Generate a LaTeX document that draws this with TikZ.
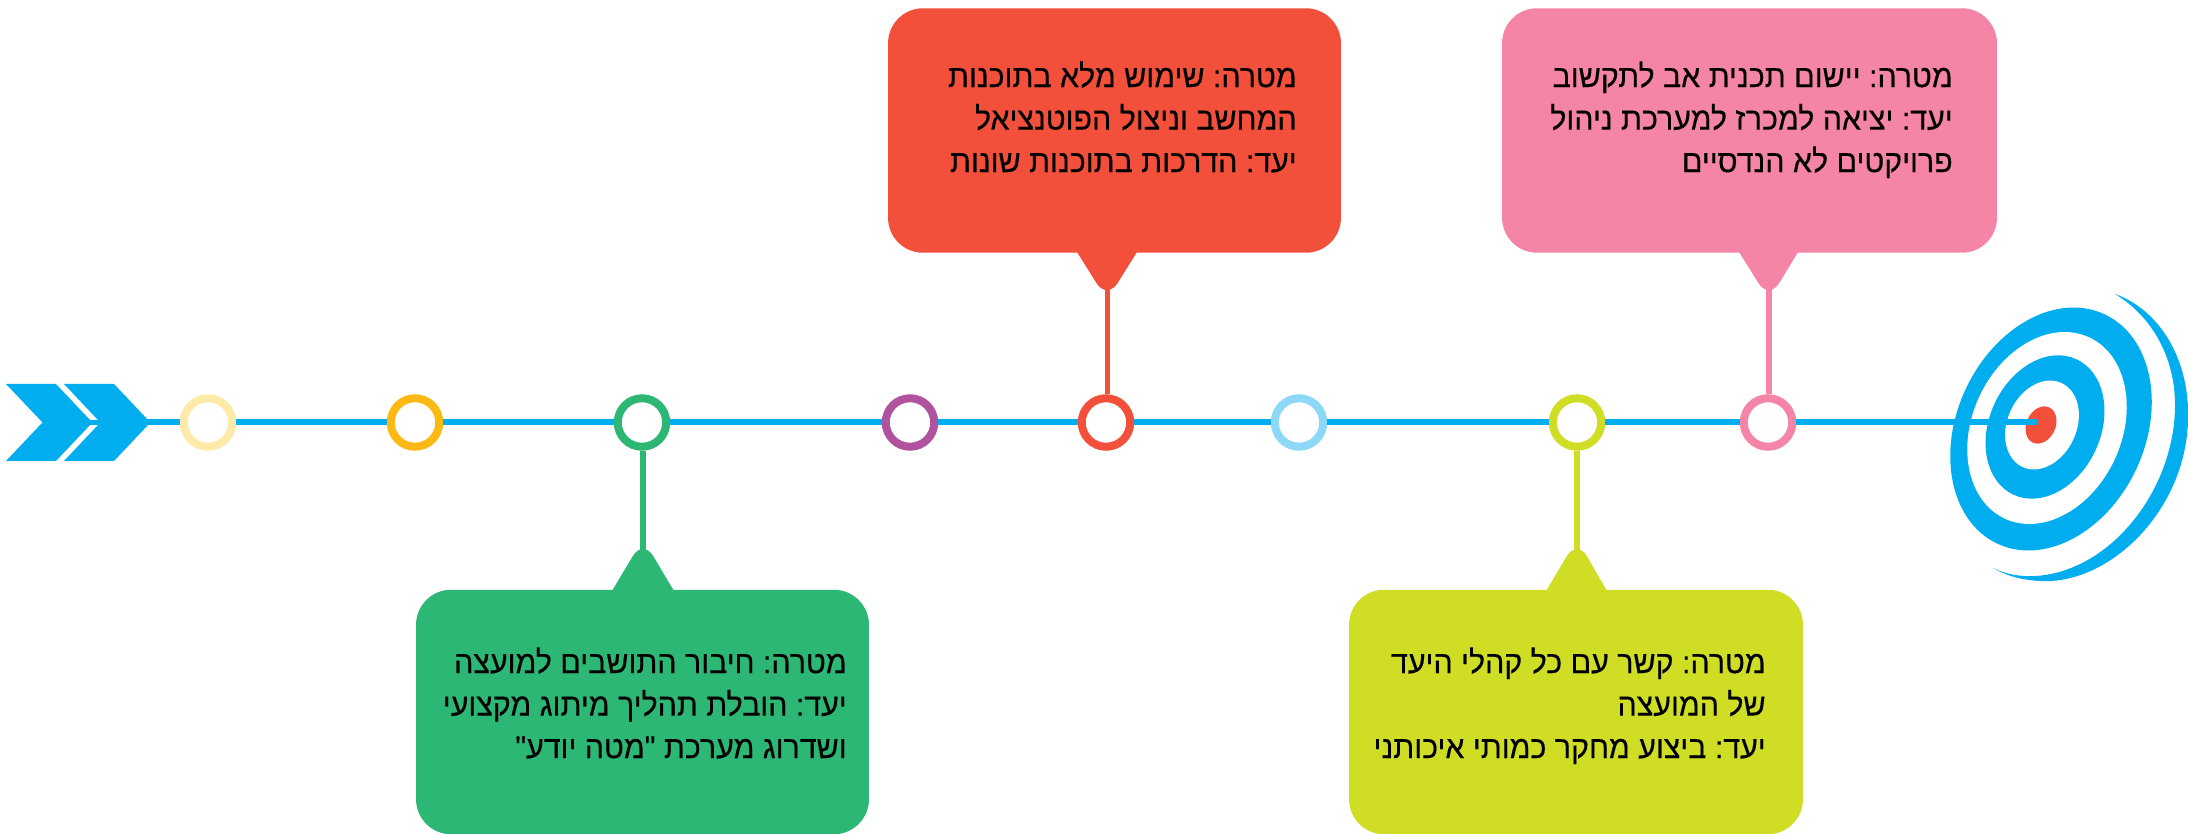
\documentclass[tikz,border=0pt]{standalone}
\usepackage{fontspec}
\usetikzlibrary{positioning,calc}
\newfontfamily\hebfont[Script=Hebrew,FakeBold=0.35,FakeStretch=0.96]{Liberation Sans}
\TeXXeTstate=1
\newcommand{\rl}[1]{\beginR#1\endR}
\definecolor{skyc}{HTML}{00AEEF}
\definecolor{redc}{HTML}{F2503A}
\definecolor{pinkc}{HTML}{F585A6}
\definecolor{greenc}{HTML}{2DB775}
\definecolor{limec}{HTML}{CFDD25}
\definecolor{palec}{HTML}{FDE9A8}
\definecolor{amberc}{HTML}{FDB913}
\definecolor{purplec}{HTML}{B1529E}
\definecolor{icec}{HTML}{8DD7F7}
\tikzset{
  dot/.style={circle, draw=#1, line width=0.16cm, minimum size=0.97cm, inner sep=0pt},
  bubble/.style={fill=#1, rounded corners=0.7cm, minimum height=4.89cm, inner sep=0pt},
  msg/.style={anchor=north east, align=right, inner sep=0pt, text=black,
    font=\hebfont\fontsize{18}{24.2}\selectfont\frenchspacing},
  track/.style={skyc, line width=0.12cm},
  stem/.style={#1, line width=0.11cm}
}

\begin{document}
\begin{tikzpicture}[x=0.02cm, y=-0.02cm]
    \useasboundingbox (0,0) rectangle (2188,834);

    % Start arrows
    \fill[skyc] (6,384) -- (56,384) -- (90,420) -- (98,420) -- (98,425) -- (90,425) -- (56,461) -- (6,461) -- (42.5,422.5) -- cycle;
    \fill[skyc] (64,384) -- (114,384) -- (148,420) -- (148,425) -- (114,461) -- (64,461) -- (98,425) -- (98,420) -- cycle;
    \coordinate (arrowtip) at (146,422.5);

    % Target
    \fill[skyc] (2115,294) .. controls (2160,310) and (2190,360) .. (2188,420) .. controls (2186,510) and (2110,585) .. (2040,581) .. controls (2020,580) and (2005,575) .. (1993,568) .. controls (2005,574) and (2020,577) .. (2035,576) .. controls (2110,572) and (2175,490) .. (2175,405) .. controls (2175,355) and (2150,315) .. (2115,294) -- cycle;
    \fill[skyc, rotate around={-25:(2051,429)}] (2051,429) ellipse (94.2 and 126.6);
    \fill[white, rotate around={-25:(2047,428)}] (2047,428) ellipse (74.6 and 100);
    \fill[skyc, rotate around={-25:(2045,427)}] (2045,427) ellipse (55.6 and 74.7);
    \fill[white, rotate around={-25:(2042,425)}] (2042,425) ellipse (34.5 and 46.3);
    \fill[redc, rotate around={-25:(2041,425)}] (2041,425) ellipse (14.5 and 19.4);
    \coordinate (lineend) at (2037,422.5);

    % Timeline dots
    \node[dot=palec] (dotpale) at (208,422.5) {};
    \node[dot=amberc] (dotamber) at (415,422.5) {};
    \node[dot=greenc] (dotgreen) at (642,422.5) {};
    \node[dot=purplec] (dotpurple) at (910,422.5) {};
    \node[dot=redc] (dotred) at (1106,422.5) {};
    \node[dot=icec] (dotice) at (1299,422.5) {};
    \node[dot=limec] (dotlime) at (1577,422.5) {};
    \node[dot=pinkc] (dotpink) at (1768,422.5) {};

    % Timeline
    \draw[track] (arrowtip) -- (dotpale);
    \draw[track] (dotpale) -- (dotamber);
    \draw[track] (dotamber) -- (dotgreen);
    \draw[track] (dotgreen) -- (dotpurple);
    \draw[track] (dotpurple) -- (dotred);
    \draw[track] (dotred) -- (dotice);
    \draw[track] (dotice) -- (dotlime);
    \draw[track] (dotlime) -- (dotpink);
    \draw[track] (dotpink) -- (lineend);

    % Red bubble
    \node[bubble=redc, minimum width=9.06cm] (boxred) at (1114.5,130.5) {};
    \fill[redc] (1077,252) [rounded corners=0.4cm] -- (1107,300) [sharp corners] -- (1137,252) -- cycle;
    \coordinate (tipred) at (1107.5,285);
    \draw[stem=redc] (tipred) -- (tipred |- dotred.north);
    \node[msg] (txtred) at (1297,61) {\rl{מטרה: שימוש מלא בתוכנות}\\ \rl{המחשב וניצול הפוטנציאל}\\ \rl{יעד: הדרכות בתוכנות שונות}};

    % Pink bubble
    \node[bubble=pinkc, minimum width=9.9cm] (boxpink) at (1749.5,130.5) {};
    \fill[pinkc] (1739,252) [rounded corners=0.4cm] -- (1769,300) [sharp corners] -- (1798,252) -- cycle;
    \coordinate (tippink) at (1769,285);
    \draw[stem=pinkc] (tippink) -- (tippink |- dotpink.north);
    \node[msg] (txtpink) at (1953,61) {\rl{מטרה: יישום תכנית אב לתקשוב}\\ \rl{יעד: יציאה למכרז למערכת ניהול}\\ \rl{פרויקטים לא הנדסיים}};

    % Green bubble
    \node[bubble=greenc, minimum width=9.06cm] (boxgreen) at (642.5,712) {};
    \fill[greenc] (612,591) [rounded corners=0.4cm] -- (643,539) [sharp corners] -- (674,591) -- cycle;
    \coordinate (tipgreen) at (643,554);
    \draw[stem=greenc] (tipgreen) -- (tipgreen |- dotgreen.south);
    \node[msg] (txtgreen) at (847,647) {\rl{מטרה: חיבור התושבים למועצה}\\ \rl{יעד: הובלת תהליך מיתוג מקצועי}\\ \rl{ושדרוג מערכת "מטה יודע"}};

    % Lime bubble
    \node[bubble=limec, minimum width=9.08cm] (boxlime) at (1576,712) {};
    \fill[limec] (1546,591) [rounded corners=0.4cm] -- (1577,539) [sharp corners] -- (1607,591) -- cycle;
    \coordinate (tiplime) at (1577,554);
    \draw[stem=limec] (tiplime) -- (tiplime |- dotlime.south);
    \node[msg] (txtlime) at (1766,647) {\rl{מטרה: קשר עם כל קהלי היעד}\\ \rl{של המועצה}\\ \rl{יעד: ביצוע מחקר כמותי איכותני}};
\end{tikzpicture}
\end{document}
